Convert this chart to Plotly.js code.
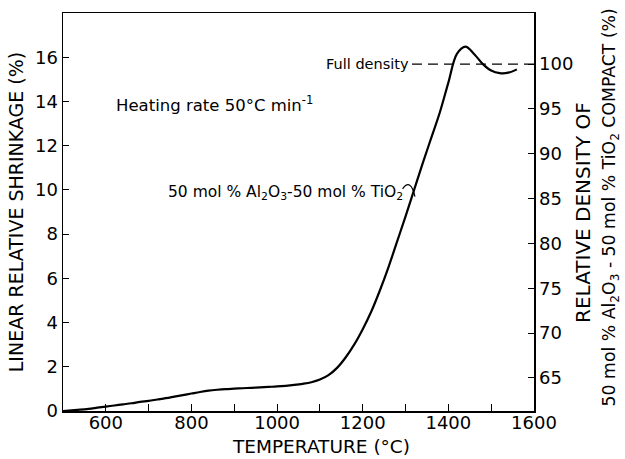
<!DOCTYPE html>
<html>
<head>
<meta charset="utf-8">
<script src="https://cdn.plot.ly/plotly-3.0.1.min.js"></script>
<style>html,body{margin:0;padding:0;background:#fff;}#chart{width:625px;height:459px;}</style>
</head>
<body>
<div id="chart"></div>
<script>
// Temperature (°C)
const temperature = [500, 520, 540, 560, 580, 600, 620, 640, 660, 680, 700, 720, 740, 760, 780, 800, 820, 840, 860, 880, 900, 920, 940, 960, 980, 1000, 1020, 1040, 1060, 1080, 1100, 1120, 1140, 1160, 1180, 1200, 1220, 1240, 1260, 1280, 1300, 1320, 1340, 1360, 1380, 1400, 1420, 1440, 1460, 1480, 1500, 1520, 1540, 1560];
// Linear relative shrinkage (%)
const shrinkage = [0, 0.03, 0.06, 0.1, 0.15, 0.2, 0.25, 0.3, 0.35, 0.41, 0.46, 0.52, 0.58, 0.65, 0.72, 0.79, 0.86, 0.92, 0.96, 0.99, 1.01, 1.03, 1.05, 1.07, 1.09, 1.11, 1.14, 1.18, 1.23, 1.3, 1.42, 1.62, 1.95, 2.42, 3.0, 3.7, 4.5, 5.45, 6.5, 7.65, 8.8, 10.0, 11.2, 12.35, 13.5, 14.85, 16.15, 16.48, 16.15, 15.7, 15.4, 15.28, 15.3, 15.45];
// Full-density reference line (right axis, %)
const fullDensityT = [1315, 1600];
const fullDensityVal = [100, 100];
// Tick values
const xTicks = [600, 800, 1000, 1200, 1400, 1600];
const yLeftTicks = [0, 2, 4, 6, 8, 10, 12, 14, 16];
const yRightTicks = [65, 70, 75, 80, 85, 90, 95, 100];

const F = 'DejaVu Sans, sans-serif';
const K = '#000';

const traces = [
  {x: temperature, y: shrinkage, type: 'scatter', mode: 'lines',
   line: {color: K, width: 2.2, shape: 'spline', smoothing: 1}, hoverinfo: 'skip', showlegend: false},
  {x: fullDensityT, y: fullDensityVal, yaxis: 'y2', type: 'scatter', mode: 'lines',
   line: {color: K, width: 1.3, dash: '10px,6px'}, hoverinfo: 'skip', showlegend: false}
];

const layout = {
  width: 625, height: 459,
  margin: {l: 63, r: 91, t: 13, b: 48},
  paper_bgcolor: '#fff', plot_bgcolor: '#fff',
  font: {family: F, color: K},
  showlegend: false,
  xaxis: {
    range: [500, 1600], tickvals: xTicks, ticktext: xTicks.map(String),
    ticks: 'inside', ticklen: 7, tickwidth: 1, tickcolor: K,
    minor: {dtick: 100, ticks: 'inside', ticklen: 7, tickwidth: 1, tickcolor: K},
    showline: true, linecolor: K, linewidth: 1.5, mirror: true,
    showgrid: false, zeroline: false, ticklabelstandoff: -5,
    tickfont: {family: F, size: 18, color: K}
  },
  yaxis: {
    range: [0, 18], tickvals: yLeftTicks, ticktext: yLeftTicks.map(String),
    ticks: 'inside', ticklen: 6, tickwidth: 1, tickcolor: K,
    showline: true, linecolor: K, linewidth: 1.5,
    showgrid: false, zeroline: false,
    tickfont: {family: F, size: 18, color: K},
    title: {text: 'LINEAR RELATIVE SHRINKAGE (%)', font: {family: F, size: 19, color: K}, standoff: 6}
  },
  yaxis2: {
    overlaying: 'y', side: 'right', anchor: 'x',
    range: [61.3, 105.7], tickvals: yRightTicks, ticktext: yRightTicks.map(String),
    ticks: 'inside', ticklen: 6, tickwidth: 1, tickcolor: K,
    showline: true, linecolor: K, linewidth: 1.5,
    showgrid: false, zeroline: false,
    tickfont: {family: F, size: 18, color: K}
  },
  annotations: [
    {xref: 'paper', yref: 'paper', x: 0.548, y: -0.09, xanchor: 'center', yanchor: 'middle', showarrow: false,
     text: 'TEMPERATURE (°C)', font: {family: F, size: 18.5, color: K}},
    {xref: 'paper', yref: 'paper', x: 1.104, y: 0.5, xanchor: 'center', yanchor: 'middle', showarrow: false,
     textangle: -90, text: 'RELATIVE DENSITY OF', font: {family: F, size: 20, color: K}},
    {xref: 'paper', yref: 'paper', x: 1.163, y: 0.511, xanchor: 'center', yanchor: 'middle', showarrow: false,
     textangle: -90, text: '50 mol % Al<sub>2</sub>O<sub>3</sub> - 50 mol % TiO<sub>2</sub> COMPACT (%)',
     font: {family: F, size: 17.3, color: K}},
    {xref: 'x', yref: 'y', x: 1312, y: 15.7, xanchor: 'right', yanchor: 'middle', showarrow: false,
     text: 'Full density', font: {family: F, size: 14.5, color: K}},
    {xref: 'x', yref: 'y', x: 618, y: 13.9, xanchor: 'left', yanchor: 'middle', showarrow: false,
     text: 'Heating rate 50°C min<sup>-1</sup>', font: {family: F, size: 16.5, color: K}},
    {xref: 'x', yref: 'y', x: 740, y: 9.86, xanchor: 'left', yanchor: 'middle', showarrow: false,
     text: '50 mol % Al<sub>2</sub>O<sub>3</sub>-50 mol % TiO<sub>2</sub>', font: {family: F, size: 15.5, color: K}}
  ],
  shapes: [
    {type: 'path', xref: 'x', yref: 'y', path: 'M1293,10.05 Q1312,10.55 1322,9.7',
     line: {color: K, width: 1.2}}
  ]
};

Plotly.newPlot('chart', traces, layout, {staticPlot: true, displayModeBar: false});
</script>
</body>
</html>
